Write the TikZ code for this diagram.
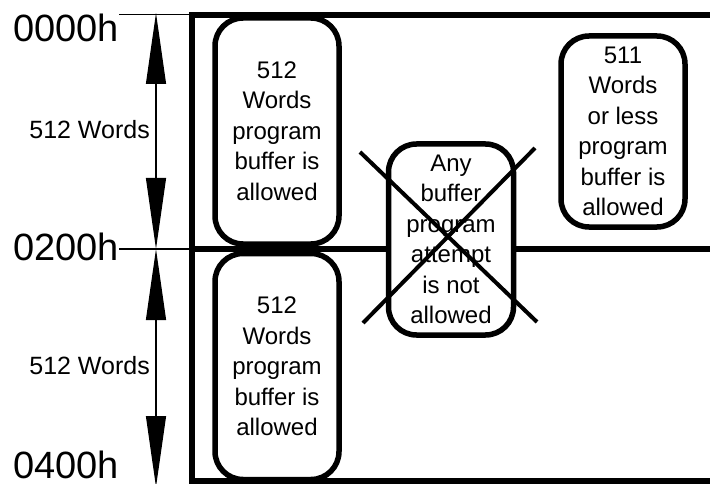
\documentclass[tikz,border=0pt]{standalone}
\usepackage{fontspec}
\setmainfont{Liberation Sans}
\usetikzlibrary{arrows.meta}
\usetikzlibrary{positioning}
\usetikzlibrary{calc}
\tikzset{
  bufbox/.style={draw=black, line width=5.5pt, rounded corners=28pt, fill=white,
    align=center, inner sep=0pt, minimum width=124pt,
    font=\fontsize{24}{30.5}\selectfont},
}

\begin{document}
\begin{tikzpicture}[x=1pt, y=-1pt,
	frame/.style={line width=6.5pt},
	guide/.style={line width=1.2pt},
	span/.style={guide, {Triangle[length=71pt,width=20pt]}-{Triangle[length=71pt,width=20pt]}},
	addr/.style={inner sep=0pt, anchor=base east, font=\fontsize{38}{38}\selectfont},
	size/.style={inner sep=0pt, anchor=east, font=\fontsize{25}{25}\selectfont}]
	
	\useasboundingbox (0,0) rectangle (710,484);
	\clip (0,0) rectangle (710,484);
	
	% frame corners
	\coordinate (F0) at (192,15);
	\coordinate (F1) at (192,249);
	\coordinate (F2) at (192,481);
	\coordinate (E0) at (716,15);
	\coordinate (E1) at (716,249);
	\coordinate (E2) at (716,481);
	
	% memory frame
	\draw[frame] (E0) -- (F0) -- (F2) -- (E2);
	\draw[frame] (F1) -- (E1);
	
	% address labels
	\node[addr] (a0000) at (119,42) {0000h};
	\node[addr] (a0200) at (119,260) {0200h};
	\node[addr] (a0400) at (119,478) {0400h};
	
	% guide lines
	\draw[guide] (a0000.north east) -- (a0000.north east -| F0);
	\draw[guide] (F1 -| a0200.east) -- (F1);
	
	% size arrows
	\coordinate (d0) at (156,13);
	\coordinate (d1) at (156,249);
	\coordinate (d2) at (156,487);
	\draw[span] (d0) -- (d1);
	\draw[span] (d1) -- (d2);
	\node[size] (w1) at (150,130) {512 Words};
	\node[size] (w2) at (150,366) {512 Words};
	
	% program buffers
	\node[bufbox, minimum height=226pt] (bufA) at (277,131) {512\\Words\\program\\buffer is\\allowed};
	\node[bufbox, minimum height=226pt, below=4pt of bufA] (bufB) {512\\Words\\program\\buffer is\\allowed};
	\node[bufbox, minimum height=191pt, minimum width=125pt] (bufC) at (451,239.5) {Any\\buffer\\program\\attempt\\is not\\allowed};
	\node[bufbox, minimum height=191pt] (bufD) at (623,131.5) {511\\Words\\or less\\program\\buffer is\\allowed};
	
	% crossed out
	\draw[line width=4pt] ($(bufC)+(-91,-87.5)$) -- ($(bufC)+(86,82.5)$);
	\draw[line width=4pt] ($(bufC)+(84,-91.5)$) -- ($(bufC)+(-88,83.5)$);
\end{tikzpicture}
\end{document}
